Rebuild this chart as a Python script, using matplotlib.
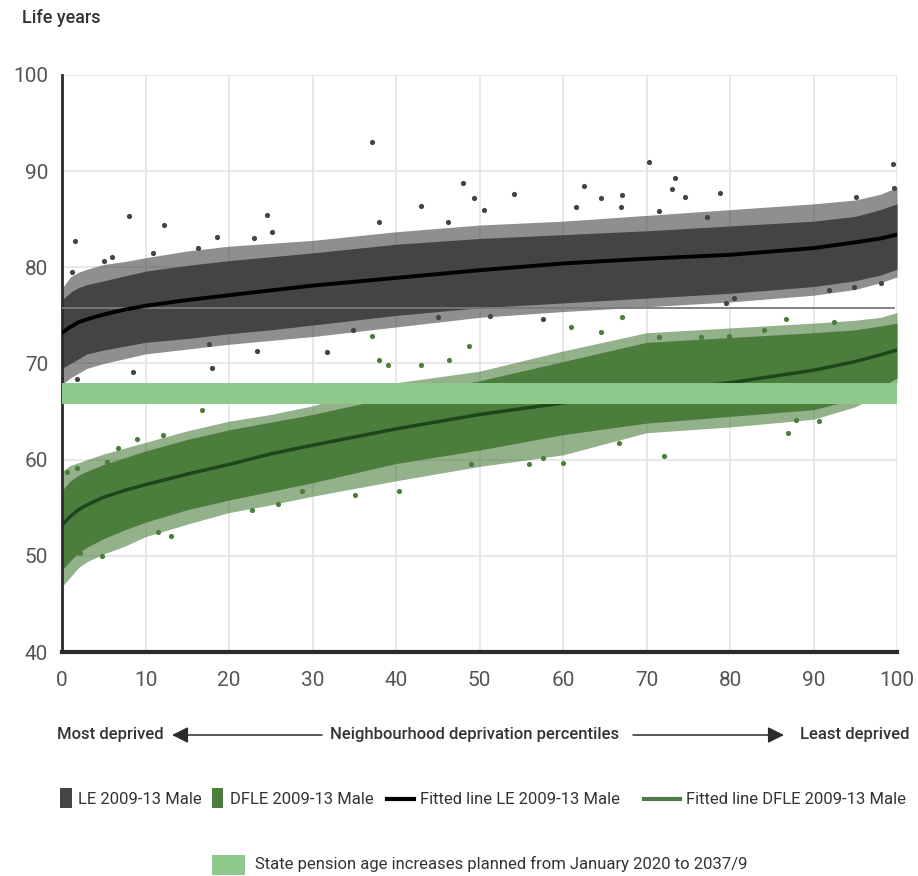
import matplotlib
matplotlib.use("Agg")
import matplotlib.pyplot as plt
from matplotlib.patches import Rectangle, FancyArrowPatch
from matplotlib.lines import Line2D

plt.rcParams['font.family'] = ['Roboto', 'DejaVu Sans']

# Deprivation percentile grid used for envelopes and fitted curves
pct = [0, 1, 2, 3, 5, 7.5, 10, 15, 20, 25, 30, 40, 50, 60, 70, 80, 90, 95, 98, 100]

# Life expectancy (LE) cloud: dense core and sparse outer envelope
le_core_low = [69.5, 70.0, 70.5, 71.0, 71.4, 71.8, 72.2, 72.6, 73.1, 73.5, 74.0, 75.0, 75.8, 76.3, 76.8, 77.3, 78.0, 78.6, 79.2, 79.8]
le_core_high = [76.6, 77.4, 77.9, 78.2, 78.6, 79.1, 79.6, 80.2, 80.7, 81.1, 81.5, 82.4, 83.0, 83.4, 83.8, 84.3, 84.8, 85.3, 86.0, 86.6]
le_outer_low = [67.8, 68.5, 69.0, 69.5, 70.0, 70.5, 71.0, 71.5, 72.0, 72.4, 72.8, 73.8, 74.8, 75.4, 75.9, 76.4, 77.1, 77.7, 78.4, 79.0]
le_outer_high = [77.8, 79.0, 79.5, 79.8, 80.3, 80.6, 81.0, 81.7, 82.2, 82.5, 82.8, 83.7, 84.4, 84.8, 85.4, 86.0, 86.6, 87.0, 87.6, 88.3]

# Disability-free life expectancy (DFLE) cloud
dfle_core_low = [48.5, 49.5, 50.3, 50.9, 51.8, 52.7, 53.5, 54.8, 55.8, 56.7, 57.6, 59.6, 61.0, 62.6, 63.8, 64.5, 65.2, 66.3, 67.5, 68.5]
dfle_core_high = [56.8, 57.8, 58.4, 58.8, 59.5, 60.2, 60.9, 62.1, 63.1, 63.9, 64.7, 66.6, 68.2, 70.2, 72.2, 72.7, 73.2, 73.5, 73.9, 74.2]
dfle_outer_low = [46.8, 47.8, 48.8, 49.4, 50.2, 51.0, 52.0, 53.3, 54.5, 55.3, 56.2, 57.8, 59.3, 60.5, 62.8, 63.4, 64.2, 65.5, 66.8, 68.0]
dfle_outer_high = [58.8, 59.4, 59.7, 60.0, 60.6, 61.2, 61.8, 63.0, 64.0, 64.7, 65.6, 68.0, 69.2, 71.3, 73.2, 73.7, 74.2, 74.5, 74.8, 75.3]

# Fitted lines
le_fit = [73.2, 73.8, 74.3, 74.6, 75.1, 75.6, 76.0, 76.6, 77.1, 77.6, 78.1, 78.9, 79.7, 80.4, 80.9, 81.3, 82.0, 82.6, 83.0, 83.4]
dfle_fit = [53.2, 54.1, 54.8, 55.3, 56.1, 56.8, 57.4, 58.5, 59.5, 60.6, 61.5, 63.2, 64.7, 65.9, 67.0, 68.0, 69.3, 70.2, 70.9, 71.4]

# Individual neighbourhoods lying away from the main clouds
le_out_x = [1.6, 8.0, 12.2, 24.5, 25.2, 23.0, 23.4, 37.1, 48.0, 49.3, 54.1, 43.0, 62.5, 64.5, 38.0, 31.7, 57.6,
            70.3, 73.4, 73.1, 74.6, 78.8, 99.5, 99.6, 8.5, 18.0, 1.8, 17.6, 10.9, 16.3, 18.6, 6.0, 5.0, 1.2,
            46.2, 50.5, 61.5, 34.9, 45.0, 51.2, 67.1, 66.9, 71.5, 95.1, 77.3, 91.8, 98.1, 94.8, 80.5, 79.5]
le_out_y = [82.7, 85.3, 84.4, 85.4, 83.7, 83.1, 71.3, 93.0, 88.8, 87.2, 87.6, 86.4, 88.5, 87.2, 84.7, 71.2, 74.6,
            91.0, 89.3, 88.1, 87.3, 87.7, 90.7, 88.2, 69.1, 69.5, 68.4, 72.0, 81.5, 82.0, 83.2, 81.1, 80.7, 79.5,
            84.7, 86.0, 86.3, 73.5, 74.8, 74.9, 87.5, 86.3, 85.9, 87.3, 85.2, 77.6, 78.4, 78.0, 76.8, 76.3]

dfle_out_x = [16.8, 9.0, 6.7, 12.1, 4.8, 2.2, 13.0, 11.5, 22.8, 25.9, 28.7, 35.1, 40.3, 49.0, 55.9, 60.0, 57.6,
              38.0, 39.0, 43.0, 46.3, 48.8, 72.1, 66.7, 86.9, 90.6, 87.9, 86.7, 92.4, 84.1, 76.5, 79.9, 71.5,
              37.1, 60.9, 64.5, 67.1, 0.6, 1.8, 5.4]
dfle_out_y = [65.2, 62.2, 61.2, 62.6, 50.0, 50.3, 52.1, 52.5, 54.8, 55.4, 56.7, 56.3, 56.7, 59.6, 59.6, 59.7, 60.2,
              70.4, 69.8, 69.8, 70.4, 71.8, 60.4, 61.7, 62.8, 64.0, 64.1, 74.6, 74.3, 73.5, 72.8, 72.9, 72.8,
              72.9, 73.8, 73.3, 74.8, 58.7, 59.1, 59.8]

# Reference levels
le_ref = 75.8
pension_low, pension_high = 65.8, 68.0

xticks = [0, 10, 20, 30, 40, 50, 60, 70, 80, 90, 100]
yticks = [40, 50, 60, 70, 80, 90, 100]

LE_COL = '#444444'
DFLE_COL = '#4b7d3c'
DFLE_FIT_COL = '#1f461b'
PENSION_COL = '#8ec88a'
TEXT_COL = '#333333'

W, H = 918, 876
fig = plt.figure(figsize=(W / 100, H / 100), dpi=100)
ax = fig.add_axes([62 / W, 1 - 652 / H, (897 - 62) / W, (652 - 75) / H])

ax.set_xlim(0, 100)
ax.set_ylim(40, 100)
ax.set_xticks(xticks)
ax.set_yticks(yticks)
ax.grid(True, color='#e4e4e4', lw=1.2, zorder=0)
ax.set_axisbelow(True)
for s in ('top', 'right'):
    ax.spines[s].set_visible(False)
ax.spines['left'].set_linewidth(2)
ax.spines['left'].set_color('#2b2b2b')
ax.spines['bottom'].set_linewidth(3)
ax.spines['bottom'].set_color('#2b2b2b')
ax.tick_params(length=0, labelsize=15, colors='#555555')
ax.tick_params(axis='y', pad=10)
ax.tick_params(axis='x', pad=14)

# Point clouds
ax.fill_between(pct, le_outer_low, le_outer_high, color=LE_COL, alpha=0.6, lw=0, zorder=1)
ax.fill_between(pct, le_core_low, le_core_high, color=LE_COL, lw=0, zorder=1.1)
ax.fill_between(pct, dfle_outer_low, dfle_outer_high, color=DFLE_COL, alpha=0.6, lw=0, zorder=1.2)
ax.fill_between(pct, dfle_core_low, dfle_core_high, color=DFLE_COL, lw=0, zorder=1.3)
ax.scatter(le_out_x, le_out_y, s=14, color=LE_COL, linewidths=0, zorder=1.5, clip_on=False)
ax.scatter(dfle_out_x, dfle_out_y, s=14, color=DFLE_COL, linewidths=0, zorder=1.5, clip_on=False)

# Fitted lines, reference level and pension age band
ax.plot(pct, dfle_fit, color=DFLE_FIT_COL, lw=2.5, zorder=2)
ax.axhspan(pension_low, pension_high, color=PENSION_COL, lw=0, zorder=3)
ax.plot([0, 99.6], [le_ref, le_ref], color='#7a7a7a', lw=1.3, zorder=3.2)
ax.plot(pct, le_fit, color='black', lw=2.8, zorder=3.5)


def fx(px):
    return px / W


def fy(py):
    return 1 - py / H


fig.text(fx(22), fy(18), 'Life years', fontsize=13, fontweight='medium', color=TEXT_COL, va='center', ha='left')

# Axis description with arrows
row = 735
fig.text(fx(57), fy(row), 'Most deprived', fontsize=12, fontweight='medium', color=TEXT_COL, va='center', ha='left')
fig.text(fx(475), fy(row), 'Neighbourhood deprivation percentiles', fontsize=12, fontweight='medium',
         color=TEXT_COL, va='center', ha='center')
fig.text(fx(910), fy(row), 'Least deprived', fontsize=12, fontweight='medium', color=TEXT_COL, va='center', ha='right')
arrow_style = dict(arrowstyle='-|>,head_length=0.7,head_width=0.35', mutation_scale=14,
                   color='#2b2b2b', lw=1.1, shrinkA=0, shrinkB=0)
fig.add_artist(FancyArrowPatch((fx(322), fy(row)), (fx(172), fy(row)), transform=fig.transFigure, **arrow_style))
fig.add_artist(FancyArrowPatch((fx(633), fy(row)), (fx(784), fy(row)), transform=fig.transFigure, **arrow_style))

# Legend
leg = 799
fig.add_artist(Rectangle((fx(60), fy(808)), fx(12), 20 / H, transform=fig.transFigure, color=LE_COL, lw=0))
fig.text(fx(78), fy(leg), 'LE 2009-13 Male', fontsize=12, color=TEXT_COL, va='center', ha='left')
fig.add_artist(Rectangle((fx(212), fy(808)), fx(11), 20 / H, transform=fig.transFigure, color=DFLE_COL, lw=0))
fig.text(fx(230), fy(leg), 'DFLE 2009-13 Male', fontsize=12, color=TEXT_COL, va='center', ha='left')
fig.add_artist(Line2D([fx(387), fx(414)], [fy(leg), fy(leg)], transform=fig.transFigure, color='black', lw=3))
fig.text(fx(420), fy(leg), 'Fitted line LE 2009-13 Male', fontsize=12, color=TEXT_COL, va='center', ha='left')
fig.add_artist(Line2D([fx(644), fx(680)], [fy(leg), fy(leg)], transform=fig.transFigure, color='#4f7a4a', lw=3))
fig.text(fx(686), fy(leg), 'Fitted line DFLE 2009-13 Male', fontsize=12, color=TEXT_COL, va='center', ha='left')

fig.add_artist(Rectangle((fx(212), fy(875)), fx(33), 20 / H, transform=fig.transFigure, color=PENSION_COL, lw=0))
fig.text(fx(255), fy(864), 'State pension age increases planned from January 2020 to 2037/9', fontsize=12,
         color=TEXT_COL, va='center', ha='left')

fig.savefig('out.png', dpi=100, facecolor='white')
